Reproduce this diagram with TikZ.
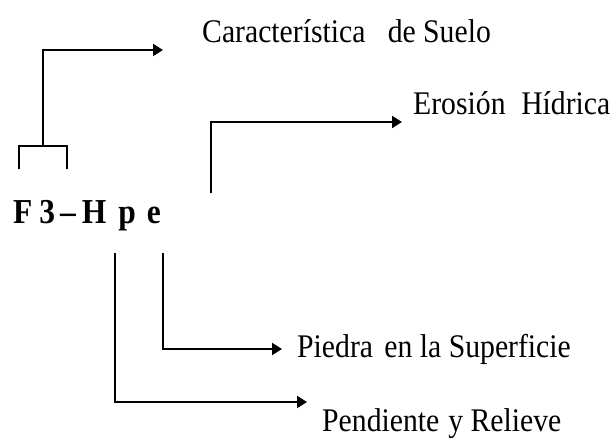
\documentclass[tikz,border=0pt]{standalone}
\usepackage{fontspec}
\setmainfont{Liberation Serif}[FakeStretch=0.9]
\usetikzlibrary{arrows.meta}
\begin{document}
\begin{tikzpicture}[x=1pt,y=1pt,
  lbl/.style={anchor=base west,inner sep=0pt,font=\fontsize{33}{40}\selectfont},
  conn/.style={line width=2pt},
  arr/.style={line width=2pt,-{Triangle[length=10pt,width=12pt]}}]
\useasboundingbox (0,0) rectangle (616,-439);
% labels
\node[lbl] (car) at (202,-42) {Característica\hspace{0.45em} de Suelo};
\node[lbl] (ero) at (413,-114) {Erosión\hspace{0.25em} Hídrica};
\node[lbl] (pie) at (297,-357) {Piedra\hspace{0.12em} en la Superficie};
\node[lbl] (pen) at (322,-431) {Pendiente\hspace{0.05em} y Relieve};
\node[lbl,font=\fontsize{35}{42}\selectfont\bfseries] (code) at (13,-223)
  {F\hspace{7pt}3\hspace{5pt}–\hspace{6pt}H\hspace{12pt}p\hspace{11pt}e};
% coordinates
\coordinate (bl) at (19,-169);
\coordinate (blt) at (19,-146);
\coordinate (brt) at (67,-146);
\coordinate (br) at (67,-169);
\coordinate (bm) at (43,-146);
\coordinate (bmt) at (43,-50);
\coordinate (carA) at (163,-50);
\coordinate (eb) at (211,-193);
\coordinate (et) at (211,-122);
\coordinate (eroA) at (402,-122);
\coordinate (pt) at (163,-253);
\coordinate (pb) at (163,-349);
\coordinate (pieA) at (282,-349);
\coordinate (qt) at (115,-253);
\coordinate (qb) at (115,-402);
\coordinate (penA) at (307,-402);
% connectors
\draw[conn] (bl) -- (blt) -- (brt) -- (br);
\draw[arr] (bm) -- (bmt) -- (carA);
\draw[arr] (eb) -- (et) -- (eroA);
\draw[arr] (pt) -- (pb) -- (pieA);
\draw[arr] (qt) -- (qb) -- (penA);
\end{tikzpicture}
\end{document}
